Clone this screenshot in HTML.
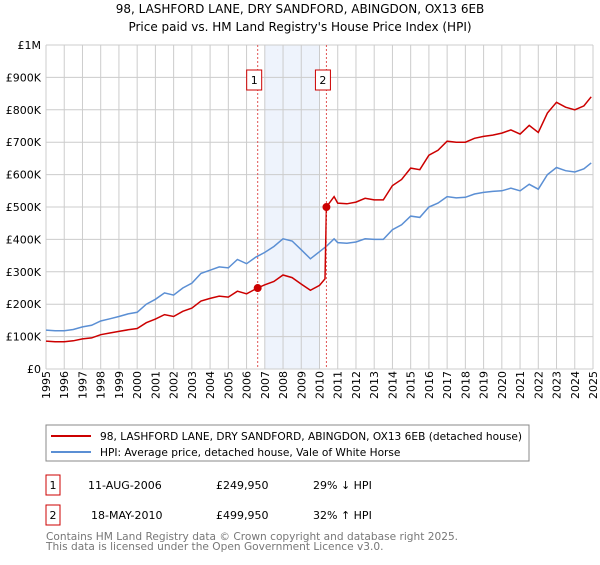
<!DOCTYPE html>
<html><head><meta charset="utf-8"><style>
body{margin:0;background:#fff;font-family:"Liberation Sans","DejaVu Sans",sans-serif;}
svg text{font-family:"DejaVu Sans","Liberation Sans",sans-serif;}
</style></head><body>
<svg width="600" height="560" viewBox="0 0 600 560" xmlns="http://www.w3.org/2000/svg">
<text x="300" y="13" font-size="12" text-anchor="middle">98, LASHFORD LANE, DRY SANDFORD, ABINGDON, OX13 6EB</text>
<text x="300" y="31" font-size="12" text-anchor="middle">Price paid vs. HM Land Registry's House Price Index (HPI)</text>
<g id="plot"></g>
<rect x="46" y="425" width="483" height="36" fill="#fff" stroke="#888"/>
<line x1="51" y1="436" x2="91" y2="436" stroke="#cc0000" stroke-width="2"/>
<text x="100" y="440" font-size="10.6">98, LASHFORD LANE, DRY SANDFORD, ABINGDON, OX13 6EB (detached house)</text>
<line x1="51" y1="452" x2="91" y2="452" stroke="#5b8fd4" stroke-width="2"/>
<text x="100" y="456" font-size="10.6">HPI: Average price, detached house, Vale of White Horse</text>
<g>
<rect x="46" y="475" width="14" height="20" fill="#fff" stroke="#cc0000"/>
<text x="53" y="489" font-size="11" text-anchor="middle">1</text>
<text x="88" y="489" font-size="11">11-AUG-2006</text>
<text x="216" y="489" font-size="11">£249,950</text>
<text x="313" y="489" font-size="11">29% ↓ HPI</text></g>
<g>
<rect x="46" y="505" width="14" height="20" fill="#fff" stroke="#cc0000"/>
<text x="53" y="519" font-size="11" text-anchor="middle">2</text>
<text x="91" y="519" font-size="11">18-MAY-2010</text>
<text x="216" y="519" font-size="11">£499,950</text>
<text x="313" y="519" font-size="11">32% ↑ HPI</text></g>
<text x="46" y="540" font-size="10.6" fill="#777">Contains HM Land Registry data © Crown copyright and database right 2025.</text>
<text x="46" y="550" font-size="10.6" fill="#777">This data is licensed under the Open Government Licence v3.0.</text>
</svg>
<script>
const yTickValues=[0,100,200,300,400,500,600,700,800,900,1000];
const yTickLabels=["£0","£100K","£200K","£300K","£400K","£500K","£600K","£700K","£800K","£900K","£1M"];
const hpiYears=[1995,1995.5,1996,1996.5,1997,1997.5,1998,1998.5,1999,1999.5,2000,2000.5,2001,2001.5,2002,2002.5,2003,2003.5,2004,2004.5,2005,2005.5,2006,2006.5,2007,2007.5,2008,2008.5,2009,2009.5,2010,2010.4,2010.8,2011,2011.5,2012,2012.5,2013,2013.5,2014,2014.5,2015,2015.5,2016,2016.5,2017,2017.5,2018,2018.5,2019,2019.5,2020,2020.5,2021,2021.5,2022,2022.5,2023,2023.5,2024,2024.5,2024.9];
const hpiValues=[120,118,118,122,130,135,148,155,162,170,175,200,215,235,228,250,265,295,305,315,312,338,325,345,360,378,402,395,368,340,362,380,402,390,388,392,402,400,400,430,445,472,468,500,512,532,528,530,540,545,548,550,558,550,570,555,600,622,612,608,618,636];
const priceYears=[1995,1995.5,1996,1996.5,1997,1997.5,1998,1998.5,1999,1999.5,2000,2000.5,2001,2001.5,2002,2002.5,2003,2003.5,2004,2004.5,2005,2005.5,2006,2006.6,2007,2007.5,2008,2008.5,2009,2009.5,2010,2010.3,2010.38,2010.8,2011,2011.5,2012,2012.5,2013,2013.5,2014,2014.5,2015,2015.5,2016,2016.5,2017,2017.5,2018,2018.5,2019,2019.5,2020,2020.5,2021,2021.5,2022,2022.5,2023,2023.5,2024,2024.5,2024.9];
const priceValues=[86,84,84,87,93,96,106,111,116,121,125,143,154,168,162,178,188,210,218,225,222,240,232,250,260,270,290,282,262,243,258,278,500,532,512,510,515,527,522,522,566,585,620,615,660,675,703,700,700,712,718,722,728,738,725,752,730,790,823,808,800,812,840];
const sales=[{x:2006.61,v:249.95,n:"1"},{x:2010.38,v:499.95,n:"2"}];
const X0=46,X1=593,Y0=369,Y1=45;
const xs=y=>X0+(y-1995)/30*(X1-X0);
const ys=v=>Y0-v/1000*(Y0-Y1);
const NS="http://www.w3.org/2000/svg";
const g=document.getElementById('plot');
function mk(t,a){const e=document.createElementNS(NS,t);for(const k in a)e.setAttribute(k,a[k]);g.appendChild(e);return e;}
let r=mk('rect',{x:xs(2007),y:Y1,width:xs(2010)-xs(2007),height:Y0-Y1,fill:'#eef3fc'});


for(let i=0;i<yTickValues.length;i++){
 const y=ys(yTickValues[i]);
 let l=mk('line',{x1:X0,x2:X1,y1:y,y2:y,stroke:'#ccc'});
 
 
 let t=mk('text',{x:41,y:y+4,'font-size':11,'text-anchor':'end'});t.textContent=yTickLabels[i];
 
 
}
for(let yr=1995;yr<=2025;yr++){
 const x=xs(yr);
 let l=mk('line',{x1:x,x2:x,y1:Y1,y2:Y0,stroke:'#ccc'});
 
 
 let t=mk('text',{x:0,y:0,'font-size':11,transform:`translate(${x+4},${Y0+30}) rotate(-90)`});t.textContent=yr;
 
 
}
function line(xsA,vs,c,name){
 const d=xsA.map((x,i)=>(i?'L':'M')+xs(x).toFixed(1)+','+ys(vs[i]).toFixed(1)).join('');
 let p=mk('path',{d:d,fill:'none',stroke:c,'stroke-width':1.5});
 
 
}
line(hpiYears,hpiValues,'#5b8fd4','hpi-line');
line(priceYears,priceValues,'#cc0000','price-line');
sales.forEach(s=>{
 let l=mk('line',{x1:xs(s.x),x2:xs(s.x),y1:Y1,y2:Y0,stroke:'#e05555','stroke-dasharray':'2,2'});
 
 
 let c=mk('circle',{cx:xs(s.x),cy:ys(s.v),r:4,fill:'#cc0000'});
 
 
 let b=mk('rect',{x:xs(s.x)-11,y:70,width:15,height:20,fill:'#fff',stroke:'#cc0000'});
 
 
 let t=mk('text',{x:xs(s.x)-3.5,y:84,'font-size':11,'text-anchor':'middle'});t.textContent=s.n;
 
 
});
</script>
</body></html>
